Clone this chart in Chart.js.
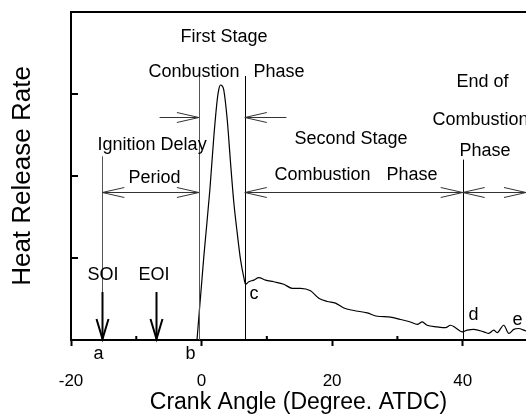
<!DOCTYPE html>
<html lang="en">
<head>
<meta charset="UTF-8">
<title>Heat Release Rate</title>
<script src="https://cdn.jsdelivr.net/npm/chart.js@4.4.1/dist/chart.umd.min.js"></script>
<style>
  html, body { margin: 0; padding: 0; background: #fff; }
  #hrr { display: block; }
</style>
</head>
<body>
<canvas id="hrr" width="526" height="416"></canvas>
<script>
// heat release curve, crank angle in degrees ATDC
const crankAngle = [-0.7, 0.35, 1.27, 1.88, 2.4, 2.65, 2.9, 3.15, 3.4, 3.94, 4.44, 4.95, 5.47, 5.97, 6.48, 6.74,
  7.24, 8.01, 8.77, 9.8, 11.07, 12.6, 13.89, 15.16, 16.69, 17.96, 19.25, 20.52, 21.79, 23.32, 25.38, 26.91,
  28.94, 30.47, 32.01, 33.03, 33.8, 34.56, 36.09, 37.37, 38.13, 38.9, 39.92, 40.69, 41.7, 43.23, 44.0,
  44.76, 45.28, 46.29, 47.06, 47.83, 48.59, 49.36, 49.7]
const heatRelease = [0, 1.02, 1.83, 2.48, 2.93, 3.06, 3.11, 3.10, 3.05, 2.68, 2.16, 1.67, 1.30, 0.98, 0.76, 0.68,
  0.71, 0.73, 0.76, 0.73, 0.71, 0.68, 0.63, 0.63, 0.60, 0.51, 0.47, 0.45, 0.39, 0.36, 0.33, 0.29,
  0.28, 0.25, 0.22, 0.19, 0.22, 0.18, 0.16, 0.15, 0.18, 0.15, 0.10, 0.12, 0.13, 0.10, 0.08,
  0.12, 0.09, 0.18, 0.08, 0.13, 0.14, 0.12, 0.11]

const xTickValues = [-20, -10, 0, 10, 20, 30, 40]
const xTickLabels = ['-20', '', '0', '', '20', '', '40']
const yTickValues = [1, 2, 3]

// stage boundaries
const angleSOI = -15.2
const angleEOI = -6.94
const angleB = -0.41
const angleC = 6.63
const angleD = 40

const FONT = '"Liberation Sans", Arial, sans-serif'

const vLines = [
  { x: angleSOI, from: 0.585, to: 2.24, color: '#555', width: 1 },
  { x: angleB, from: 0, to: 3.22, color: '#555', width: 1 },
  { x: angleC, from: 0, to: 3.22, color: '#000', width: 1 },
  { x: angleD, from: 0, to: 2.2, color: '#000', width: 1 }
]

// [x0, x1, y, head at x0, head at x1]
const hArrows = [
  [angleSOI, angleB, 1.81, true, true],
  [-6.43, angleB, 2.72, false, true],
  [13.0, angleC, 2.72, false, true],
  [angleC, angleD, 1.81, true, true],
  [angleD, 49.7, 1.81, true, true]
]

const labels = [
  ['First Stage', -3.22, 3.64],
  ['Conbustion', -8.12, 3.21],
  ['Phase', 7.96, 3.21],
  ['Ignition Delay', -15.93, 2.32],
  ['Period', -11.18, 1.91],
  ['Second Stage', 14.24, 2.39],
  ['Combustion', 11.18, 1.95],
  ['Phase', 28.33, 1.95],
  ['End of', 39.05, 3.09],
  ['Combustion', 35.38, 2.62],
  ['Phase', 39.51, 2.24],
  ['SOI', -17.46, 0.73],
  ['EOI', -9.65, 0.73],
  ['a', -16.54, -0.23],
  ['b', -2.45, -0.23],
  ['c', 7.35, 0.50],
  ['d', 40.89, 0.24],
  ['e', 47.63, 0.18]
]

function openHead(ctx, x, y, dx, dy, len, half) {
  // open V arrowhead with its tip at (x, y), pointing along (dx, dy)
  const bx = x - dx * len, by = y - dy * len
  ctx.beginPath()
  ctx.moveTo(bx - dy * half, by + dx * half)
  ctx.lineTo(x, y)
  ctx.lineTo(bx + dy * half, by - dx * half)
  ctx.stroke()
}

const annotate = {
  id: 'annotate',
  afterDatasetsDraw(chart) {
    const { ctx, chartArea } = chart
    const sx = chart.scales.x, sy = chart.scales.y
    const px = v => sx.getPixelForValue(v)
    const py = v => sy.getPixelForValue(v)
    ctx.save()

    // top frame line
    ctx.strokeStyle = '#000'
    ctx.lineWidth = 2
    ctx.beginPath()
    ctx.moveTo(chartArea.left - 1, chartArea.top)
    ctx.lineTo(chartArea.right, chartArea.top)
    ctx.stroke()

    // inward minor ticks
    ctx.beginPath()
    ;[-10, 10, 30].forEach(v => {
      ctx.moveTo(px(v), chartArea.bottom)
      ctx.lineTo(px(v), chartArea.bottom - 4)
    })
    yTickValues.forEach(v => {
      ctx.moveTo(chartArea.left, py(v))
      ctx.lineTo(chartArea.left + 7, py(v))
    })
    ctx.stroke()

    // stage boundaries
    vLines.forEach(l => {
      ctx.strokeStyle = l.color
      ctx.lineWidth = l.width
      ctx.beginPath()
      ctx.moveTo(Math.round(px(l.x)) + 0.5, py(l.from))
      ctx.lineTo(Math.round(px(l.x)) + 0.5, py(l.to))
      ctx.stroke()
    })

    // injection arrows
    ctx.strokeStyle = '#000'
    ctx.lineWidth = 2
    ;[angleSOI, angleEOI].forEach(a => {
      const x = Math.round(px(a)) + 0.5
      ctx.beginPath()
      ctx.moveTo(x, py(0.585))
      ctx.lineTo(x, py(0) - 1)
      ctx.stroke()
      openHead(ctx, x, py(0) - 1, 0, 1, 20, 6)
    })

    // stage span arrows
    ctx.strokeStyle = '#333'
    ctx.lineWidth = 1
    hArrows.forEach(([x0, x1, yv, h0, h1]) => {
      const a = px(x0), b = px(x1), y = Math.round(py(yv)) + 0.5
      ctx.beginPath()
      ctx.moveTo(a, y)
      ctx.lineTo(b, y)
      ctx.stroke()
      const dir = b > a ? 1 : -1
      if (h0) openHead(ctx, a, y, -dir, 0, 22, 5)
      if (h1) openHead(ctx, b, y, dir, 0, 22, 5)
    })

    // text
    ctx.fillStyle = '#000'
    ctx.font = '18px ' + FONT
    ctx.textAlign = 'left'
    ctx.textBaseline = 'alphabetic'
    labels.forEach(([t, x, y]) => ctx.fillText(t, px(x), py(y)))

    ctx.restore()
  }
}

Chart.defaults.font.family = FONT
Chart.defaults.color = '#000'

new Chart(document.getElementById('hrr'), {
  type: 'line',
  data: {
    datasets: [{
      data: crankAngle.map((a, i) => ({ x: a, y: heatRelease[i] })),
      borderColor: '#000',
      borderWidth: 1.2,
      pointRadius: 0,
      cubicInterpolationMode: 'monotone',
      fill: false
    }]
  },
  options: {
    responsive: false,
    animation: false,
    devicePixelRatio: 1,
    layout: { padding: { top: 12, right: 0, left: 0, bottom: 0 } },
    plugins: { legend: { display: false }, tooltip: { enabled: false } },
    scales: {
      x: {
        type: 'linear',
        min: -20,
        max: 49.7,
        afterBuildTicks: s => { s.ticks = xTickValues.map(v => ({ value: v })) },
        afterFit: s => { s.height = 76 },
        ticks: {
          autoSkip: false,
          maxRotation: 0,
          padding: 27,
          font: { size: 17, lineHeight: 1 },
          callback: (v, i) => xTickLabels[i]
        },
        grid: {
          drawOnChartArea: false,
          tickLength: 6,
          tickWidth: 2,
          tickColor: c => (c.tick && c.tick.value % 20 === 0) ? '#000' : 'rgba(0,0,0,0)'
        },
        border: { color: '#000', width: 2 },
        title: {
          display: true,
          text: 'Crank Angle (Degree. ATDC)',
          font: { size: 23, lineHeight: 1 },
          padding: { top: 0, bottom: 1.5 }
        }
      },
      y: {
        min: 0,
        max: 4,
        afterFit: s => { s.width = 71 },
        ticks: { display: false },
        grid: { display: false },
        border: { color: '#000', width: 2 },
        title: {
          display: true,
          text: 'Heat Release Rate',
          font: { size: 26, lineHeight: 1 },
          padding: { top: 10, bottom: 0 }
        }
      }
    }
  },
  plugins: [annotate]
})
</script>
</body>
</html>
